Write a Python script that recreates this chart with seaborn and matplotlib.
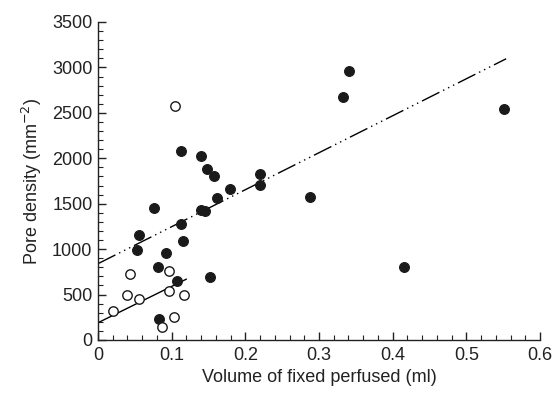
import numpy as np
import pandas as pd
import matplotlib
matplotlib.use("Agg")
import matplotlib.pyplot as plt
from matplotlib.ticker import MultipleLocator, FuncFormatter
import seaborn as sns

# filled circles (one group)
filled_x = [0.113, 0.140, 0.148, 0.158, 0.179, 0.162, 0.076, 0.140, 0.145,
            0.113, 0.056, 0.115, 0.053, 0.092, 0.082, 0.152, 0.107, 0.083,
            0.341, 0.333, 0.551, 0.220, 0.220, 0.288, 0.415]
filled_y = [2085, 2020, 1880, 1800, 1660, 1565, 1450, 1430, 1415,
            1275, 1155, 1085, 990, 960, 800, 695, 645, 235,
            2960, 2670, 2545, 1830, 1705, 1575, 805]

# open circles (other group)
open_x = [0.104, 0.043, 0.097, 0.021, 0.039, 0.055, 0.097, 0.117, 0.103, 0.087]
open_y = [2570, 725, 755, 315, 490, 455, 535, 490, 250, 145]

# regression lines (end points)
fit_filled_x = [0.0, 0.554]
fit_filled_y = [840, 3095]
fit_open_x = [0.0, 0.12]
fit_open_y = [190, 670]

sns.set_style("ticks")
plt.rcParams["font.family"] = ["Liberation Sans", "DejaVu Sans"]

fig = plt.figure(figsize=(5.55, 3.97), dpi=100)
ax = fig.add_axes([0.1766, 0.1436, 0.7964, 0.801])

filled = pd.DataFrame({"x": filled_x, "y": filled_y})
opened = pd.DataFrame({"x": open_x, "y": open_y})

# fitted lines
sns.lineplot(x=fit_filled_x, y=fit_filled_y, ax=ax, color="black", linewidth=1.0)
ax.lines[-1].set_dashes([14, 3, 1, 3, 1, 3, 1, 3])
sns.lineplot(x=fit_open_x, y=fit_open_y, ax=ax, color="black", linewidth=1.0)

sns.scatterplot(data=filled, x="x", y="y", ax=ax, color="#1a1a1a", s=50,
                edgecolor="#1a1a1a", linewidth=0.8, zorder=3)
sns.scatterplot(data=opened, x="x", y="y", ax=ax, facecolor="white", s=46,
                edgecolor="#1a1a1a", linewidth=1.0, zorder=3)

ax.set_xlim(0, 0.6)
ax.set_ylim(0, 3500)
ax.xaxis.set_major_locator(MultipleLocator(0.1))
ax.xaxis.set_minor_locator(MultipleLocator(0.02))
ax.yaxis.set_major_locator(MultipleLocator(500))
ax.yaxis.set_minor_locator(MultipleLocator(100))
ax.xaxis.set_major_formatter(FuncFormatter(lambda v, _: f"{round(v, 2):g}"))
ax.tick_params(which="major", direction="in", length=6, width=1.0,
               labelsize=13, color="#222222", labelcolor="#222222", pad=5)
ax.tick_params(axis="y", which="major", pad=4)
ax.tick_params(which="minor", direction="in", length=3.5, width=0.8,
               color="#222222")
sns.despine(ax=ax)
for sp in ["left", "bottom"]:
    ax.spines[sp].set_linewidth(1.0)
    ax.spines[sp].set_color("#222222")

ax.set_xlabel("Volume of fixed perfused (ml)", fontsize=13, color="#222222",
              labelpad=4)
ax.set_ylabel("Pore density (mm$^{-2}$)", fontsize=13, color="#222222",
              labelpad=6)

fig.savefig("out.png", dpi=100)
